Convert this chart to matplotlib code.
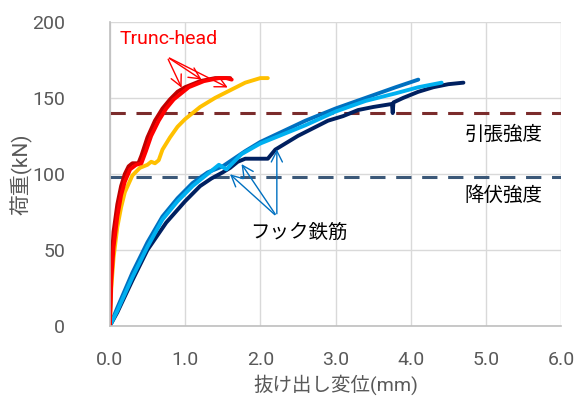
import matplotlib
matplotlib.use("Agg")
import matplotlib.pyplot as plt

plt.rcParams['font.family'] = ['Roboto', 'Noto Sans CJK JP', 'DejaVu Sans']

# Trunc-head specimens
dark_red_x = [0, 0.02, 0.05, 0.1, 0.15, 0.2, 0.25, 0.3, 0.38, 0.42, 0.5, 0.6, 0.7, 0.8, 0.9, 1.0, 1.1, 1.2, 1.3, 1.4, 1.5, 1.6]
dark_red_y = [0, 40, 62, 80, 92, 100, 105, 107, 107, 112, 124, 135, 143, 149, 154, 157, 159, 161, 162, 163, 163, 163]
red_x = [0, 0.02, 0.05, 0.1, 0.15, 0.2, 0.27, 0.35, 0.42, 0.48, 0.55, 0.65, 0.75, 0.85, 0.95, 1.05, 1.15, 1.25, 1.35, 1.45, 1.55, 1.62]
red_y = [0, 30, 52, 72, 86, 95, 103, 106, 107, 115, 125, 135, 143, 149, 153, 157, 159, 161, 162, 163, 163, 162]
orange_x = [0, 0.02, 0.05, 0.1, 0.15, 0.2, 0.3, 0.4, 0.5, 0.55, 0.6, 0.65, 0.7, 0.8, 0.9, 1.0, 1.2, 1.4, 1.6, 1.8, 2.0, 2.1]
orange_y = [0, 25, 45, 65, 78, 88, 99, 104, 106, 108, 107, 109, 116, 124, 131, 136, 144, 150, 155, 160, 163, 163]

# hook bar specimens
navy_x = [0, 0.1, 0.3, 0.5, 0.75, 1.0, 1.2, 1.35, 1.5, 1.6, 1.7, 1.8, 2.1, 2.2, 2.3, 2.5, 2.7, 2.9, 3.1, 3.3, 3.5, 3.75, 3.76, 3.77, 3.9, 4.1, 4.3, 4.5, 4.7]
navy_y = [0, 9, 30, 50, 68, 82, 92, 97, 101, 104, 108, 110, 110, 116, 119, 125, 130, 135, 138, 142, 144, 146, 140, 147, 150, 154, 157, 159, 160]
lblue_x = [0, 0.1, 0.3, 0.5, 0.7, 0.9, 1.1, 1.3, 1.45, 1.55, 1.65, 1.75, 2.0, 2.3, 2.6, 3.0, 3.4, 3.8, 4.1, 4.41]
lblue_y = [0, 10, 32, 52, 70, 82, 92, 100, 106, 103, 108, 113, 120, 126, 132, 141, 148, 153, 157, 160]
blue_x = [0, 0.1, 0.3, 0.5, 0.7, 0.9, 1.1, 1.3, 1.5, 1.65, 1.8, 2.0, 2.3, 2.6, 3.0, 3.4, 3.8, 4.1]
blue_y = [0, 12, 35, 55, 72, 84, 94, 101, 105, 110, 115, 121, 128, 135, 143, 150, 157, 162]

tensile_strength = 140
yield_strength = 98

trunc_arrow_tips = [(0.97, 155), (1.25, 161), (1.6, 156)]
hook_arrow_tips = [(1.57, 101), (1.73, 108), (2.22, 118)]

fig, ax = plt.subplots(figsize=(5.81, 4.04), dpi=100)
fig.subplots_adjust(left=0.189, right=0.966, bottom=0.193, top=0.946)

ax.grid(True, color='#d9d9d9', linewidth=1.0)
ax.set_axisbelow(True)

ax.axhline(tensile_strength, color='#7b2c2c', linewidth=2.2, dashes=(5, 3.5))
ax.axhline(yield_strength, color='#3b5878', linewidth=2.2, dashes=(5, 3.5))

lw = 2.8
ax.plot(navy_x, navy_y, color='#002060', lw=lw, solid_joinstyle='round', solid_capstyle='round')
ax.plot(blue_x, blue_y, color='#0070c0', lw=lw, solid_joinstyle='round', solid_capstyle='round')
ax.plot(lblue_x, lblue_y, color='#00b0f0', lw=lw, solid_joinstyle='round', solid_capstyle='round')
ax.plot(orange_x, orange_y, color='#ffc000', lw=lw, solid_joinstyle='round', solid_capstyle='round')
ax.plot(dark_red_x, dark_red_y, color='#c00000', lw=lw, solid_joinstyle='round', solid_capstyle='round')
ax.plot(red_x, red_y, color='#ff0000', lw=lw, solid_joinstyle='round', solid_capstyle='round')

for tip in trunc_arrow_tips:
    ax.annotate('', xy=tip, xytext=(0.76, 177),
                arrowprops=dict(arrowstyle='->', color='#ff0000', lw=1.0, mutation_scale=20))
for tip in hook_arrow_tips:
    ax.annotate('', xy=tip, xytext=(2.22, 72),
                arrowprops=dict(arrowstyle='->', color='#0070c0', lw=1.0, mutation_scale=20))

ax.text(0.13, 189, 'Trunc-head', color='#ff0000', fontsize=14, va='center', ha='left')
ax.text(2.51, 61, 'フック鉄筋', color='black', fontsize=14, va='center', ha='center')
ax.text(5.23, 126, '引張強度', color='black', fontsize=14, va='center', ha='center')
ax.text(5.23, 86, '降伏強度', color='black', fontsize=14, va='center', ha='center')

ax.set_xlim(0, 6)
ax.set_ylim(0, 200)
ax.set_xticks([0, 1, 2, 3, 4, 5, 6])
ax.set_xticklabels([f'{v:.1f}' for v in range(7)])
ax.set_yticks([0, 50, 100, 150, 200])

for side in ['top', 'right']:
    ax.spines[side].set_visible(False)
for side in ['left', 'bottom']:
    ax.spines[side].set_color('#bfbfbf')
    ax.spines[side].set_linewidth(1.2)

ax.tick_params(length=0, labelsize=14, labelcolor='#595959')
ax.tick_params(axis='y', pad=32)
ax.tick_params(axis='x', pad=18)

ax.set_xlabel('抜け出し変位(mm)', fontsize=14, color='#595959', labelpad=4)
ax.set_ylabel('荷重(kN)', fontsize=15, color='#595959', labelpad=0)

fig.savefig('out.png', dpi=100)
